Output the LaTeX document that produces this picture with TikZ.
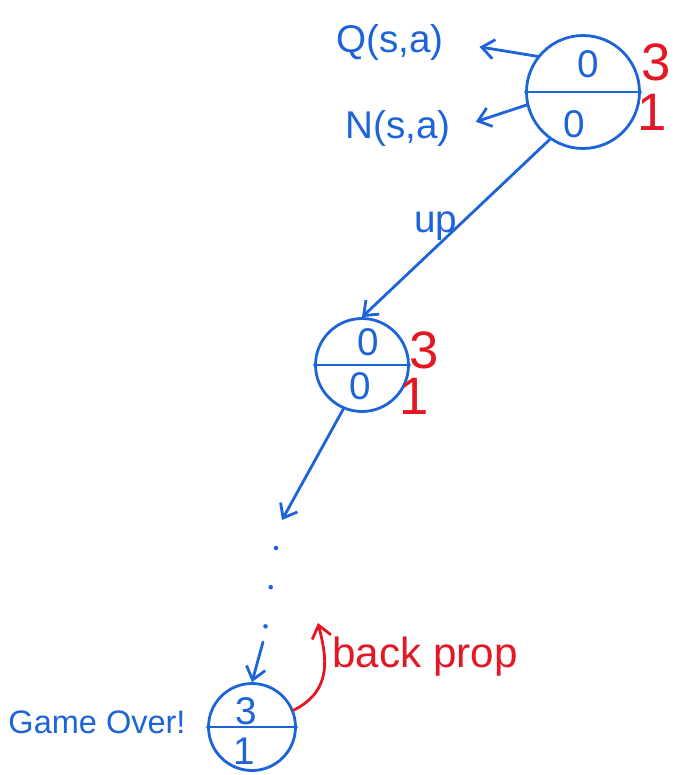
\documentclass[tikz,border=0pt]{standalone}
\usepackage{fontspec}
\setmainfont{Liberation Sans}
\usetikzlibrary{arrows.meta}

\begin{document}
\begin{tikzpicture}[x=0.02cm,y=-0.02cm,>={Straight Barb[length=7pt,width=11pt]},line cap=round,line join=round]

% Colors
\definecolor{penblue}{RGB}{28,100,215}
\definecolor{penred}{RGB}{228,24,36}

% Styles
\tikzset{
  statenode/.style={draw=penblue,circle,line width=1.6pt,inner sep=0pt},
  valtext/.style={text=penblue,font=\fontsize{22}{24}\selectfont},
  counttext/.style={text=penred,font=\fontsize{30}{32}\selectfont},
  notetext/.style={text=penblue,font=\fontsize{22}{26}\selectfont},
  redtext/.style={text=penred,font=\fontsize{24}{28}\selectfont},
  bluearrow/.style={draw=penblue,line width=1.6pt,->},
  redarrow/.style={draw=penred,line width=1.6pt,->}
}

\useasboundingbox (0,0) rectangle (677,775);

% Root state
\node[statenode,minimum size=2.26cm] (root) at (583,92) {};
\draw[penblue,line width=1.6pt] (root.west) -- (root.east);
\node[valtext] (rootq) at (588,64) {0};
\node[valtext] (rootn) at (574,124) {0};
\node[counttext] (rootc) at (656,62) {3};
\node[counttext] (rootv) at (652,112) {1};

% Labels of the root halves
\node[notetext] (qsa) at (390,42) {Q(s,a)};
\node[notetext] (nsa) at (398,128) {N(s,a)};
\draw[bluearrow,shorten >=0.6cm] (root.142) -- (qsa.east);
\draw[bluearrow,shorten >=0.4cm] (root.193) -- (nsa.east);

% Child state
\node[statenode,minimum size=1.86cm] (child) at (362,365) {};
\draw[penblue,line width=1.6pt] (child.west) -- (child.east);
\node[valtext] (childq) at (368,342) {0};
\node[valtext] (childn) at (360,386) {0};
\node[counttext] (childc) at (424,350) {3};
\node[counttext] (childv) at (414,396) {1};

\draw[bluearrow] (root.235) -- (child.north);
\node[notetext] (up) at (436,226) {up};

% Down to the terminal state
\coordinate (gap) at (282,520);
\coordinate (dottop) at (276,548);
\coordinate (dotend) at (265,630);
\coordinate (stem) at (263,642);
\draw[bluearrow] (child.247) -- (gap);
\draw[penblue,line width=2.6pt,dash pattern=on 0pt off 22.5pt] (dottop) -- (dotend);

% Terminal state
\node[statenode,minimum size=1.74cm] (leaf) at (252,727) {};
\draw[penblue,line width=1.6pt] (leaf.west) -- (leaf.east);
\node[valtext] (leafq) at (246,711) {3};
\node[valtext] (leafn) at (244,751) {1};
\draw[bluearrow] (stem) -- (leaf.north);

\node[notetext,font=\fontsize{18.5}{22}\selectfont] (over) at (97,722) {Game Over!};

% Back propagation
\coordinate (bptop) at (318,623);
\draw[redarrow] (leaf.22) .. controls (334,690) and (326,655) .. (bptop);
\node[redtext] (backprop) at (425,657) {back prop};

\end{tikzpicture}
\end{document}
